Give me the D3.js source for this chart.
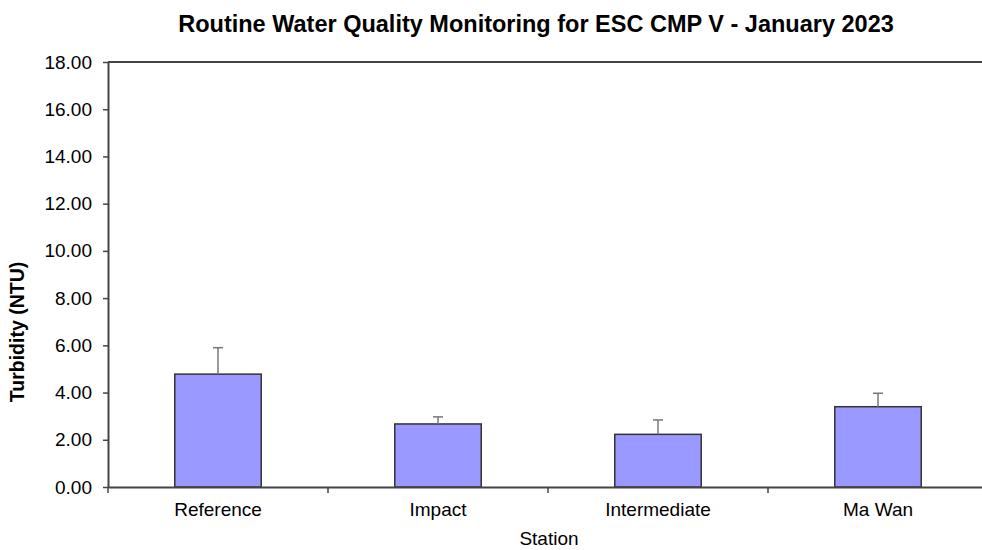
<!DOCTYPE html>
<html>
<head>
<meta charset="utf-8">
<script src="https://cdn.jsdelivr.net/npm/d3@7"></script>
<style>
html,body{margin:0;padding:0;background:#fff;overflow:hidden;}
svg{display:block;}
</style>
</head>
<body>
<svg id="chart" width="982" height="550"></svg>
<script>
const categories = ["Reference", "Impact", "Intermediate", "Ma Wan"];
const turbidity = [4.78, 2.67, 2.23, 3.40];
const errorUpper = [5.90, 2.97, 2.84, 3.97];
const yTicks = [0, 2, 4, 6, 8, 10, 12, 14, 16, 18];

(function () {
const svg = d3.select("#chart");
const mLeft = 108, mRight = 988, mTop = 62, mBottom = 487;
const font = "Liberation Sans, Arial, sans-serif";

const x = d3.scaleBand().domain(categories).range([mLeft, mRight]).paddingInner(0).paddingOuter(0);
const y = d3.scaleLinear().domain([0, 18]).range([mBottom, mTop]);
const barW = x.bandwidth() * 0.393;

// top border
svg.append("line").attr("x1", mLeft).attr("x2", mRight).attr("y1", mTop).attr("y2", mTop)
  .attr("stroke", "#444").attr("stroke-width", 2);

// bars
svg.selectAll("rect.bar").data(categories).enter().append("rect")
  .attr("class", "bar")
  .attr("x", d => x(d) + x.bandwidth()/2 - barW/2)
  .attr("y", (d,i) => y(turbidity[i]))
  .attr("width", barW)
  .attr("height", (d,i) => y(0) - y(turbidity[i]))
  .attr("fill", "#9999FF")
  .attr("stroke", "#333")
  .attr("stroke-width", 1.5);

// error bars
const eg = svg.append("g");
categories.forEach((c, i) => {
  const cx = x(c) + x.bandwidth()/2;
  eg.append("line").attr("x1", cx).attr("x2", cx)
    .attr("y1", y(turbidity[i])).attr("y2", y(errorUpper[i]))
    .attr("stroke", "#777").attr("stroke-width", 1.5);
  eg.append("line").attr("x1", cx - 5).attr("x2", cx + 5)
    .attr("y1", y(errorUpper[i])).attr("y2", y(errorUpper[i]))
    .attr("stroke", "#777").attr("stroke-width", 1.5);
});

// y axis
const yAxis = svg.append("g").attr("transform", `translate(${mLeft},0)`)
  .call(d3.axisLeft(y).tickValues(yTicks).tickFormat(d3.format(".2f")).tickSize(5).tickSizeOuter(0).tickPadding(11));
yAxis.select(".domain").attr("stroke", "#444").attr("stroke-width", 2);
yAxis.selectAll(".tick line").attr("stroke", "#444").attr("stroke-width", 1.5);
yAxis.selectAll("text").attr("font-family", font).attr("font-size", 19).attr("fill", "#000");

// x axis
const xAxis = svg.append("g").attr("transform", `translate(0,${mBottom})`)
  .call(d3.axisBottom(x).tickSize(0).tickPadding(16));
xAxis.select(".domain").attr("stroke", "#444").attr("stroke-width", 2);
xAxis.selectAll("text").attr("font-family", font).attr("font-size", 19).attr("fill", "#000");
xAxis.selectAll("line.bt").data(categories).enter().append("line")
  .attr("class", "bt")
  .attr("x1", d => x(d)).attr("x2", d => x(d))
  .attr("y1", 0).attr("y2", 6)
  .attr("stroke", "#444").attr("stroke-width", 1.5);

// title
svg.append("text").attr("x", 536).attr("y", 32).attr("text-anchor", "middle")
  .attr("font-family", font).attr("font-weight", "bold").attr("font-size", 23.5)
  .text("Routine Water Quality Monitoring for ESC CMP V - January 2023");

// axis titles
svg.append("text").attr("x", 549).attr("y", 545).attr("text-anchor", "middle")
  .attr("font-family", font).attr("font-size", 19).text("Station");
svg.append("text").attr("transform", "translate(24,332) rotate(-90)").attr("text-anchor", "middle")
  .attr("font-family", font).attr("font-weight", "bold").attr("font-size", 19.5)
  .text("Turbidity (NTU)");
})();
</script>
</body>
</html>
